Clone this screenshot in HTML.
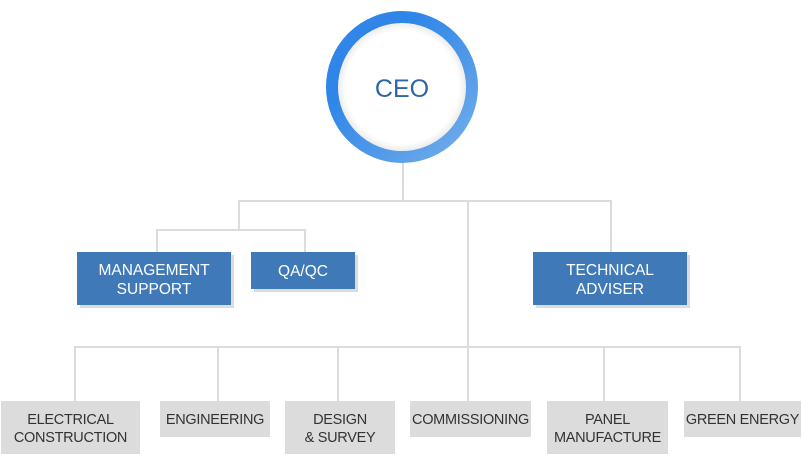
<!DOCTYPE html>
<html><head><style>
body{margin:0;width:802px;height:457px;background:#fff;position:relative;overflow:hidden;font-family:"Liberation Sans",sans-serif}
.l{position:absolute;background:#dcdcdc}
.b{position:absolute;background:#4079b8;color:#fff;font-size:15.5px;line-height:19px;text-align:center;display:flex;align-items:center;justify-content:center;box-shadow:3px 3px 0 #dcdcdc;padding-top:2px;box-sizing:border-box}
.g{position:absolute;background:#dcdcdc;color:#333;font-size:14.5px;line-height:18px;text-align:center;display:flex;align-items:center;justify-content:center;letter-spacing:-0.3px;padding-top:2px;box-sizing:border-box}
</style></head><body>
<div class="l" style="left:402px;top:160px;width:2px;height:41px"></div>
<div class="l" style="left:238px;top:200px;width:374px;height:2px"></div>
<div class="l" style="left:238px;top:200px;width:2px;height:31px"></div>
<div class="l" style="left:156px;top:229px;width:150px;height:2px"></div>
<div class="l" style="left:156px;top:229px;width:2px;height:23px"></div>
<div class="l" style="left:304px;top:229px;width:2px;height:23px"></div>
<div class="l" style="left:610px;top:200px;width:2px;height:52px"></div>
<div class="l" style="left:467px;top:200px;width:2px;height:201px"></div>
<div class="l" style="left:74px;top:346px;width:667px;height:2px"></div>
<div class="l" style="left:74px;top:346px;width:2px;height:55px"></div>
<div class="l" style="left:217px;top:346px;width:2px;height:55px"></div>
<div class="l" style="left:337px;top:346px;width:2px;height:55px"></div>
<div class="l" style="left:603px;top:346px;width:2px;height:55px"></div>
<div class="l" style="left:739px;top:346px;width:2px;height:55px"></div>
<svg style="position:absolute;left:0;top:0" width="802" height="200">
<defs><linearGradient id="gr" x1="0" y1="0" x2="1" y2="1"><stop offset="0.3" stop-color="#2f86e8"/><stop offset="1" stop-color="#74aeea"/></linearGradient>
<radialGradient id="sh" cx="0.5" cy="0.5" r="0.5"><stop offset="0.88" stop-color="#fff"/><stop offset="1" stop-color="#ececec"/></radialGradient></defs>
<circle cx="402" cy="87" r="64" fill="url(#sh)"/>
<circle cx="402" cy="87" r="70" fill="none" stroke="url(#gr)" stroke-width="12"/>
<text x="402" y="97" text-anchor="middle" font-family="Liberation Sans, sans-serif" font-size="25" fill="#2e64a8">CEO</text>
</svg>
<div class="b" style="left:77px;top:252px;width:154px;height:53px">MANAGEMENT<br>SUPPORT</div>
<div class="b" style="left:251px;top:252px;width:104px;height:37px">QA/QC</div>
<div class="b" style="left:533px;top:252px;width:154px;height:53px">TECHNICAL<br>ADVISER</div>
<div class="g" style="left:1px;top:401px;width:139px;height:53px">ELECTRICAL<br>CONSTRUCTION</div>
<div class="g" style="left:160px;top:401px;width:110px;height:36px">ENGINEERING</div>
<div class="g" style="left:285px;top:401px;width:110px;height:53px">DESIGN<br>&amp; SURVEY</div>
<div class="g" style="left:410px;top:401px;width:121px;height:36px">COMMISSIONING</div>
<div class="g" style="left:547px;top:401px;width:121px;height:53px">PANEL<br>MANUFACTURE</div>
<div class="g" style="left:684px;top:401px;width:117px;height:36px">GREEN ENERGY</div>
</body></html>
